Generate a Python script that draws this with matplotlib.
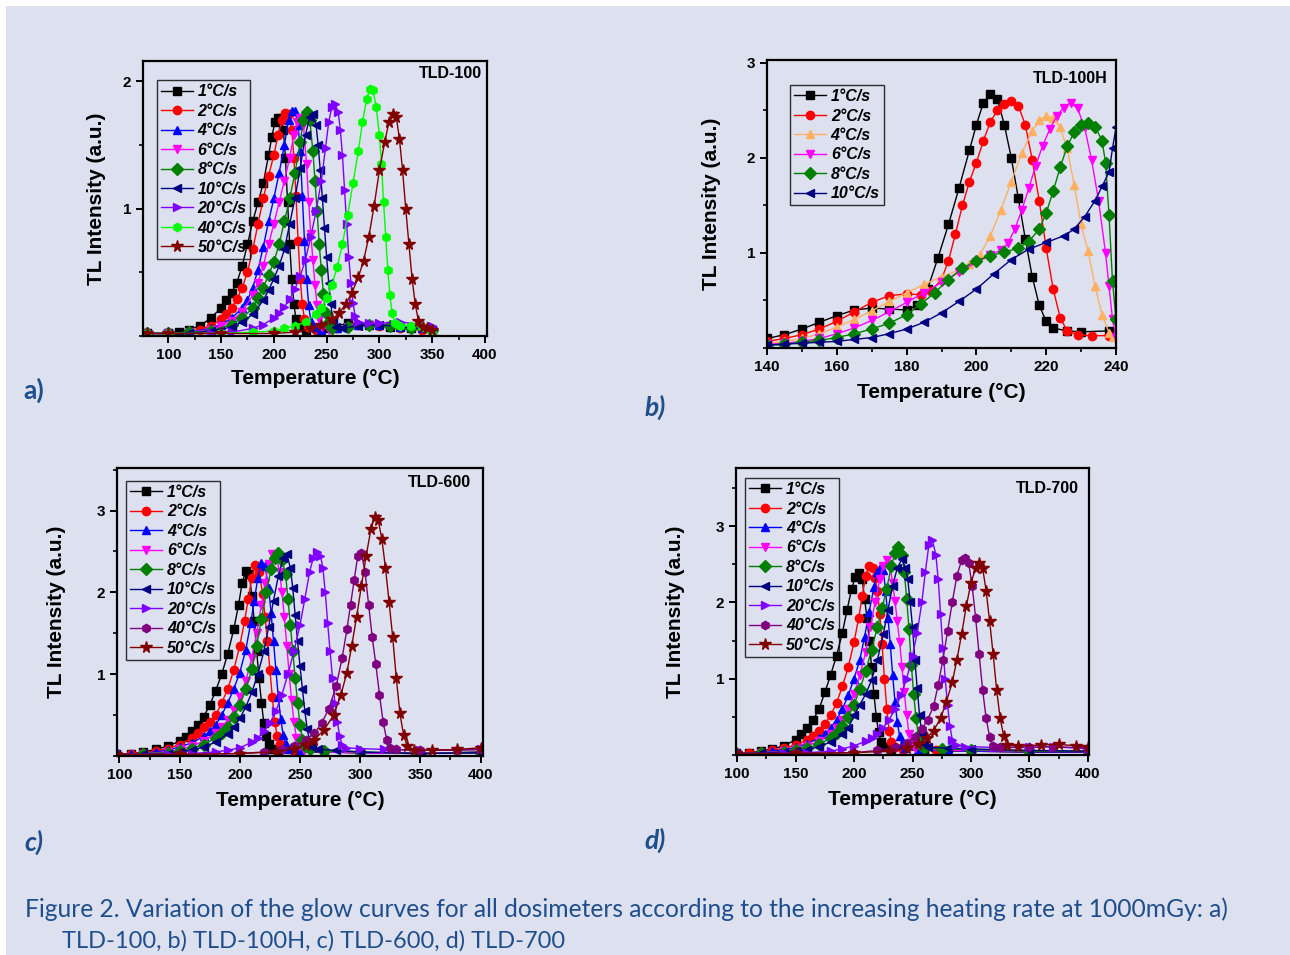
import matplotlib
matplotlib.use("Agg")
import matplotlib.pyplot as plt
from matplotlib.patches import Rectangle
from matplotlib.ticker import MultipleLocator
from matplotlib.font_manager import FontProperties

# ---- legend labels / styles ----
rates_9 = ["1°C/s", "2°C/s", "4°C/s", "6°C/s", "8°C/s", "10°C/s", "20°C/s", "40°C/s", "50°C/s"]
rates_6 = rates_9[:6]
markers_9 = ["s", "o", "^", "v", "D", "<", ">", "h", "*"]
colors_a = ["#000000", "#ff0000", "#0000ff", "#ff00ff", "#008000", "#000080", "#8000ff", "#00ff00", "#800000"]
colors_b = ["#000000", "#ff0000", "#ffb060", "#ff00ff", "#008000", "#000080"]
colors_cd = ["#000000", "#ff0000", "#0000ff", "#ff00ff", "#008000", "#000080", "#8000ff", "#800080", "#800000"]

# ---- a) TLD-100 : (temperature, TL intensity) ----
a_1 = [(80, 0.02), (100, 0.02), (110, 0.03), (120, 0.05), (130, 0.08), (140, 0.14), (150, 0.22), (155, 0.28),
       (160, 0.34), (165, 0.42), (170, 0.55), (175, 0.72), (180, 0.90), (185, 1.05), (190, 1.20), (195, 1.42),
       (198, 1.56), (201, 1.68), (204, 1.71), (207, 1.71), (209, 1.62), (211, 1.40), (213, 1.05), (215, 0.72),
       (217, 0.45), (219, 0.25), (221, 0.13), (224, 0.07), (230, 0.05), (250, 0.06), (270, 0.10), (290, 0.09),
       (310, 0.07), (330, 0.06), (350, 0.05)]
a_2 = [(80, 0.02), (100, 0.02), (120, 0.03), (130, 0.05), (140, 0.08), (150, 0.13), (155, 0.17), (160, 0.22),
       (165, 0.29), (170, 0.38), (175, 0.50), (180, 0.68), (185, 0.88), (190, 1.08), (195, 1.26), (200, 1.42),
       (204, 1.58), (208, 1.70), (211, 1.75), (214, 1.74), (217, 1.62), (219, 1.40), (221, 1.10), (223, 0.75),
       (225, 0.45), (227, 0.25), (229, 0.13), (232, 0.07), (240, 0.05), (260, 0.06), (280, 0.09), (300, 0.08),
       (320, 0.06), (340, 0.05), (350, 0.05)]
a_4 = [(80, 0.02), (100, 0.02), (120, 0.03), (140, 0.06), (150, 0.09), (160, 0.14), (170, 0.22), (175, 0.28),
       (180, 0.38), (185, 0.52), (190, 0.70), (195, 0.90), (200, 1.08), (205, 1.28), (210, 1.50), (214, 1.70),
       (217, 1.77), (220, 1.77), (223, 1.66), (225, 1.45), (227, 1.10), (229, 0.75), (231, 0.45), (233, 0.24),
       (235, 0.12), (238, 0.07), (245, 0.05), (260, 0.06), (280, 0.09), (300, 0.09), (320, 0.07), (340, 0.06),
       (350, 0.05)]
a_6 = [(80, 0.02), (100, 0.02), (120, 0.03), (140, 0.05), (150, 0.08), (160, 0.12), (170, 0.19), (180, 0.32),
       (185, 0.42), (190, 0.55), (195, 0.72), (200, 0.88), (205, 1.05), (210, 1.22), (215, 1.40), (219, 1.58),
       (222, 1.68), (225, 1.71), (228, 1.66), (231, 1.35), (233, 1.05), (235, 0.80), (237, 0.60), (239, 0.40),
       (241, 0.24), (243, 0.13), (246, 0.07), (252, 0.05), (270, 0.07), (290, 0.09), (310, 0.08), (330, 0.06),
       (350, 0.05)]
a_8 = [(80, 0.02), (100, 0.02), (120, 0.03), (140, 0.04), (160, 0.09), (170, 0.14), (180, 0.22), (185, 0.30),
       (190, 0.38), (195, 0.48), (200, 0.58), (205, 0.72), (210, 0.90), (215, 1.08), (220, 1.28), (225, 1.52),
       (228, 1.70), (231, 1.76), (234, 1.70), (237, 1.45), (239, 1.22), (241, 0.98), (243, 0.72), (245, 0.52),
       (247, 0.33), (249, 0.18), (251, 0.10), (255, 0.06), (270, 0.07), (290, 0.09), (310, 0.08), (330, 0.06),
       (350, 0.05)]
a_10 = [(80, 0.02), (100, 0.02), (120, 0.02), (140, 0.04), (160, 0.07), (170, 0.11), (180, 0.17), (190, 0.28),
        (195, 0.36), (200, 0.45), (205, 0.55), (210, 0.68), (215, 0.88), (220, 1.08), (225, 1.32), (230, 1.58),
        (234, 1.72), (237, 1.74), (240, 1.66), (242, 1.50), (244, 1.30), (246, 1.08), (248, 0.85), (250, 0.62),
        (252, 0.42), (254, 0.25), (256, 0.12), (259, 0.07), (265, 0.06), (280, 0.08), (300, 0.09), (320, 0.07),
        (340, 0.06), (350, 0.05)]
a_20 = [(80, 0.02), (100, 0.02), (140, 0.02), (160, 0.03), (180, 0.06), (190, 0.09), (200, 0.14), (205, 0.18),
        (210, 0.23), (215, 0.29), (220, 0.37), (225, 0.47), (230, 0.60), (235, 0.78), (240, 0.98), (245, 1.22),
        (249, 1.48), (252, 1.68), (255, 1.80), (258, 1.82), (261, 1.76), (263, 1.62), (265, 1.42), (267, 1.15),
        (269, 0.88), (271, 0.62), (273, 0.42), (275, 0.26), (277, 0.16), (280, 0.11), (290, 0.10), (300, 0.10),
        (320, 0.11), (340, 0.09), (350, 0.08)]
a_40 = [(80, 0.02), (100, 0.02), (150, 0.02), (180, 0.03), (200, 0.04), (210, 0.06), (220, 0.08), (230, 0.11),
        (240, 0.17), (245, 0.22), (250, 0.30), (255, 0.40), (260, 0.54), (265, 0.72), (270, 0.95), (275, 1.20),
        (280, 1.45), (284, 1.68), (288, 1.86), (291, 1.94), (294, 1.93), (297, 1.80), (300, 1.58), (302, 1.35),
        (304, 1.05), (306, 0.78), (308, 0.52), (310, 0.32), (312, 0.18), (315, 0.10), (320, 0.08), (330, 0.08),
        (340, 0.07), (348, 0.05), (350, 0.02)]
a_50 = [(80, 0.02), (100, 0.02), (150, 0.02), (200, 0.02), (220, 0.03), (235, 0.06), (245, 0.09), (255, 0.13),
        (262, 0.18), (268, 0.25), (274, 0.34), (280, 0.46), (285, 0.59), (290, 0.78), (295, 1.02), (300, 1.30),
        (305, 1.52), (309, 1.68), (313, 1.74), (316, 1.72), (319, 1.55), (322, 1.30), (325, 1.00), (328, 0.72),
        (331, 0.45), (334, 0.25), (337, 0.12), (341, 0.07), (345, 0.06), (350, 0.05)]

# ---- b) TLD-100H ----
b_1 = [(140, 0.10), (145, 0.14), (150, 0.20), (155, 0.27), (160, 0.34), (165, 0.40), (170, 0.42), (175, 0.41),
       (180, 0.40), (183, 0.45), (186, 0.62), (189, 0.95), (192, 1.30), (195, 1.68), (198, 2.08), (200, 2.35),
       (202, 2.58), (204, 2.67), (206, 2.62), (208, 2.35), (210, 2.00), (212, 1.58), (214, 1.15), (216, 0.75),
       (218, 0.45), (220, 0.28), (222, 0.21), (226, 0.18), (230, 0.17), (238, 0.18)]
b_2 = [(140, 0.07), (145, 0.10), (150, 0.14), (155, 0.20), (160, 0.28), (165, 0.38), (170, 0.48), (175, 0.55),
       (180, 0.57), (184, 0.56), (187, 0.60), (190, 0.72), (192, 0.92), (194, 1.20), (196, 1.50), (198, 1.75),
       (200, 1.95), (202, 2.18), (204, 2.38), (206, 2.50), (208, 2.57), (210, 2.60), (212, 2.55), (214, 2.35),
       (216, 1.98), (218, 1.55), (220, 1.05), (222, 0.62), (224, 0.32), (226, 0.18), (229, 0.14), (233, 0.13),
       (238, 0.13)]
b_4 = [(140, 0.05), (145, 0.07), (150, 0.10), (155, 0.15), (160, 0.22), (165, 0.30), (170, 0.39), (175, 0.49),
       (180, 0.58), (185, 0.67), (190, 0.75), (195, 0.82), (198, 0.88), (201, 0.98), (204, 1.18), (207, 1.45),
       (210, 1.75), (213, 2.05), (216, 2.28), (218, 2.40), (220, 2.44), (222, 2.42), (224, 2.32), (226, 2.10),
       (228, 1.72), (230, 1.30), (232, 1.02), (234, 0.65), (236, 0.35), (238, 0.16), (239, 0.12)]
b_6 = [(140, 0.04), (145, 0.05), (150, 0.07), (155, 0.10), (160, 0.15), (165, 0.21), (170, 0.29), (175, 0.38),
       (180, 0.48), (185, 0.58), (190, 0.69), (195, 0.80), (200, 0.90), (204, 0.98), (207, 1.03), (209, 1.10),
       (211, 1.25), (213, 1.45), (215, 1.68), (217, 1.92), (219, 2.13), (221, 2.30), (223, 2.44), (225, 2.53),
       (227, 2.58), (229, 2.52), (231, 2.32), (233, 1.98), (235, 1.55), (237, 1.00), (238, 0.65), (239, 0.30),
       (240, 0.12)]
b_8 = [(140, 0.03), (145, 0.04), (150, 0.06), (155, 0.08), (160, 0.11), (165, 0.15), (170, 0.20), (175, 0.26),
       (180, 0.35), (184, 0.46), (188, 0.58), (192, 0.72), (196, 0.84), (200, 0.92), (204, 0.97), (208, 1.01),
       (212, 1.05), (215, 1.12), (218, 1.25), (220, 1.42), (222, 1.65), (224, 1.90), (226, 2.12), (228, 2.27),
       (230, 2.35), (232, 2.37), (234, 2.33), (236, 2.18), (237, 1.95), (238, 1.40), (239, 0.70), (240, 0.30)]
b_10 = [(140, 0.03), (145, 0.04), (150, 0.05), (155, 0.06), (160, 0.07), (165, 0.09), (170, 0.11), (175, 0.15),
        (180, 0.20), (185, 0.27), (190, 0.37), (195, 0.49), (200, 0.62), (205, 0.78), (210, 0.93), (215, 1.04),
        (220, 1.11), (225, 1.18), (228, 1.25), (231, 1.38), (234, 1.55), (236, 1.70), (238, 1.85), (239, 2.10),
        (240, 2.32)]

# ---- c) TLD-600 ----
c_1 = [(97, 0.02), (110, 0.03), (120, 0.05), (130, 0.08), (140, 0.12), (150, 0.18), (155, 0.23), (160, 0.30),
       (165, 0.38), (170, 0.48), (175, 0.62), (180, 0.80), (185, 1.00), (190, 1.25), (195, 1.55), (199, 1.85),
       (202, 2.12), (205, 2.26), (208, 2.22), (210, 1.95), (212, 1.65), (214, 1.28), (216, 0.95), (218, 0.65),
       (220, 0.40), (222, 0.25), (224, 0.15), (227, 0.09), (232, 0.06), (250, 0.05), (300, 0.04), (350, 0.03),
       (400, 0.05)]
c_2 = [(97, 0.02), (110, 0.03), (120, 0.04), (130, 0.06), (140, 0.09), (150, 0.14), (160, 0.22), (165, 0.28),
       (170, 0.35), (175, 0.42), (180, 0.50), (185, 0.65), (190, 0.82), (195, 1.05), (200, 1.35), (204, 1.65),
       (207, 1.92), (210, 2.18), (213, 2.33), (216, 2.25), (219, 1.98), (221, 1.70), (223, 1.40), (225, 1.05),
       (227, 0.72), (229, 0.42), (231, 0.25), (233, 0.15), (236, 0.09), (245, 0.06), (270, 0.05), (300, 0.04),
       (350, 0.03), (400, 0.04)]
c_4 = [(97, 0.02), (110, 0.02), (120, 0.03), (130, 0.05), (140, 0.07), (150, 0.11), (160, 0.16), (170, 0.24),
       (175, 0.30), (180, 0.38), (185, 0.50), (190, 0.65), (195, 0.82), (200, 1.02), (205, 1.30), (209, 1.62),
       (212, 1.90), (215, 2.18), (218, 2.36), (221, 2.32), (224, 2.05), (226, 1.75), (228, 1.40), (230, 1.05),
       (232, 0.72), (234, 0.45), (236, 0.26), (238, 0.15), (241, 0.09), (250, 0.06), (270, 0.05), (300, 0.04),
       (350, 0.03), (400, 0.04)]
c_6 = [(97, 0.02), (120, 0.03), (140, 0.05), (150, 0.08), (160, 0.12), (170, 0.18), (180, 0.28), (185, 0.35),
       (190, 0.44), (195, 0.56), (200, 0.72), (205, 0.92), (210, 1.20), (214, 1.50), (218, 1.85), (221, 2.12),
       (224, 2.35), (227, 2.47), (230, 2.46), (233, 2.25), (235, 2.00), (237, 1.70), (239, 1.35), (241, 1.00),
       (243, 0.68), (245, 0.42), (247, 0.22), (249, 0.12), (253, 0.07), (270, 0.05), (300, 0.04), (350, 0.03),
       (400, 0.04)]
c_8 = [(97, 0.02), (120, 0.03), (140, 0.04), (150, 0.06), (160, 0.09), (170, 0.14), (180, 0.22), (185, 0.28),
       (190, 0.36), (195, 0.48), (200, 0.62), (205, 0.82), (210, 1.06), (214, 1.35), (218, 1.68), (222, 2.00),
       (226, 2.28), (229, 2.42), (232, 2.48), (235, 2.40), (238, 2.22), (240, 1.92), (242, 1.60), (244, 1.28),
       (246, 0.95), (248, 0.65), (250, 0.38), (252, 0.20), (254, 0.12), (258, 0.08), (270, 0.06), (300, 0.05),
       (350, 0.03), (400, 0.04)]
c_10 = [(97, 0.02), (120, 0.02), (140, 0.03), (150, 0.05), (160, 0.07), (170, 0.11), (180, 0.17), (190, 0.27),
        (195, 0.35), (200, 0.46), (205, 0.60), (210, 0.78), (215, 1.00), (220, 1.28), (224, 1.58), (228, 1.90),
        (232, 2.20), (236, 2.42), (239, 2.47), (242, 2.30), (244, 2.05), (246, 1.72), (248, 1.40), (250, 1.10),
        (252, 0.82), (254, 0.55), (256, 0.33), (258, 0.18), (260, 0.11), (265, 0.08), (280, 0.07), (300, 0.05),
        (350, 0.03), (400, 0.04)]
c_20 = [(97, 0.02), (140, 0.02), (160, 0.03), (180, 0.05), (190, 0.07), (200, 0.10), (210, 0.17), (215, 0.22),
        (220, 0.30), (225, 0.40), (230, 0.55), (235, 0.75), (240, 1.00), (245, 1.28), (250, 1.60), (254, 1.92),
        (258, 2.25), (261, 2.42), (264, 2.49), (267, 2.45), (269, 2.30), (271, 2.00), (273, 1.62), (275, 1.28),
        (277, 0.95), (279, 0.65), (281, 0.42), (283, 0.24), (285, 0.14), (288, 0.10), (300, 0.09), (320, 0.08),
        (350, 0.07), (400, 0.08)]
c_40 = [(97, 0.02), (150, 0.02), (200, 0.03), (220, 0.05), (235, 0.08), (245, 0.12), (255, 0.20), (262, 0.28),
        (268, 0.40), (274, 0.58), (280, 0.85), (285, 1.20), (289, 1.55), (292, 1.85), (295, 2.15), (298, 2.45),
        (301, 2.48), (304, 2.25), (307, 1.85), (310, 1.45), (313, 1.12), (316, 0.75), (319, 0.42), (322, 0.20),
        (325, 0.10), (330, 0.08), (350, 0.07), (380, 0.07), (400, 0.08)]
c_50 = [(97, 0.02), (150, 0.02), (200, 0.03), (230, 0.05), (245, 0.09), (255, 0.14), (262, 0.20), (270, 0.32),
        (278, 0.50), (284, 0.75), (289, 1.02), (293, 1.35), (297, 1.70), (301, 2.08), (305, 2.45), (309, 2.78),
        (312, 2.92), (315, 2.88), (318, 2.65), (321, 2.30), (324, 1.88), (327, 1.45), (330, 0.95), (333, 0.52),
        (336, 0.26), (339, 0.12), (345, 0.07), (360, 0.07), (380, 0.08), (400, 0.10)]

# ---- d) TLD-700 ----
d_1 = [(99, 0.02), (110, 0.03), (120, 0.05), (130, 0.08), (140, 0.12), (150, 0.20), (155, 0.27), (160, 0.36),
       (165, 0.46), (170, 0.60), (175, 0.82), (180, 1.05), (185, 1.30), (190, 1.60), (194, 1.90), (198, 2.18),
       (201, 2.33), (204, 2.38), (207, 2.30), (209, 2.05), (211, 1.80), (213, 1.50), (215, 1.15), (217, 0.80),
       (219, 0.50), (221, 0.30), (223, 0.17), (226, 0.10), (232, 0.07), (260, 0.06), (300, 0.05), (350, 0.04),
       (400, 0.04)]
d_2 = [(99, 0.02), (110, 0.03), (120, 0.04), (130, 0.06), (140, 0.09), (150, 0.13), (160, 0.19), (165, 0.25),
       (170, 0.32), (175, 0.41), (180, 0.52), (185, 0.68), (190, 0.90), (195, 1.15), (200, 1.48), (204, 1.80),
       (207, 2.08), (210, 2.35), (213, 2.48), (216, 2.45), (218, 2.32), (220, 2.15), (222, 1.85), (224, 1.45),
       (226, 1.00), (228, 0.60), (230, 0.32), (232, 0.17), (235, 0.10), (242, 0.07), (270, 0.06), (300, 0.05),
       (350, 0.04), (400, 0.04)]
d_4 = [(99, 0.02), (120, 0.03), (130, 0.05), (140, 0.07), (150, 0.10), (160, 0.15), (170, 0.22), (175, 0.28),
       (180, 0.36), (185, 0.46), (190, 0.60), (195, 0.78), (200, 1.00), (205, 1.25), (209, 1.55), (213, 1.88),
       (217, 2.20), (220, 2.40), (223, 2.48), (225, 2.42), (227, 2.15), (229, 1.80), (231, 1.45), (233, 1.05),
       (235, 0.70), (237, 0.43), (239, 0.25), (241, 0.14), (244, 0.09), (255, 0.07), (280, 0.06), (300, 0.05),
       (350, 0.04), (400, 0.04)]
d_6 = [(99, 0.02), (120, 0.03), (140, 0.05), (150, 0.08), (160, 0.12), (170, 0.18), (180, 0.28), (185, 0.36),
       (190, 0.46), (195, 0.60), (200, 0.80), (205, 1.05), (210, 1.35), (214, 1.68), (218, 2.00), (222, 2.30),
       (225, 2.48), (228, 2.55), (231, 2.45), (233, 2.25), (235, 2.02), (237, 1.75), (239, 1.48), (241, 1.15),
       (243, 0.82), (245, 0.52), (247, 0.28), (249, 0.15), (252, 0.09), (260, 0.07), (300, 0.06), (350, 0.05),
       (400, 0.05)]
d_8 = [(99, 0.02), (120, 0.03), (140, 0.04), (150, 0.06), (160, 0.09), (170, 0.14), (180, 0.22), (185, 0.29),
       (190, 0.38), (195, 0.50), (200, 0.66), (205, 0.86), (210, 1.10), (215, 1.38), (220, 1.68), (224, 1.92),
       (228, 2.18), (232, 2.48), (235, 2.65), (238, 2.72), (241, 2.62), (243, 2.40), (245, 2.05), (247, 1.65),
       (249, 1.18), (251, 0.80), (253, 0.48), (255, 0.25), (257, 0.13), (260, 0.09), (275, 0.08), (300, 0.07),
       (350, 0.05), (400, 0.05)]
d_10 = [(99, 0.02), (120, 0.02), (140, 0.04), (150, 0.05), (160, 0.07), (170, 0.11), (180, 0.17), (190, 0.27),
        (195, 0.35), (200, 0.52), (205, 0.66), (210, 0.80), (215, 0.98), (220, 1.25), (225, 1.58), (229, 1.90),
        (233, 2.22), (237, 2.45), (241, 2.57), (244, 2.45), (246, 2.30), (248, 2.00), (250, 1.68), (252, 1.25),
        (254, 0.88), (256, 0.52), (258, 0.28), (260, 0.14), (263, 0.10), (280, 0.09), (300, 0.08), (350, 0.06),
        (400, 0.05)]
d_20 = [(99, 0.02), (140, 0.02), (160, 0.03), (180, 0.05), (190, 0.08), (200, 0.12), (210, 0.18), (215, 0.22),
        (220, 0.28), (225, 0.36), (230, 0.46), (235, 0.60), (240, 0.78), (245, 1.00), (250, 1.30), (254, 1.60),
        (258, 2.00), (261, 2.40), (264, 2.75), (267, 2.82), (270, 2.62), (272, 2.30), (274, 1.85), (276, 1.40),
        (278, 1.00), (280, 0.65), (282, 0.38), (284, 0.20), (287, 0.13), (295, 0.11), (320, 0.10), (350, 0.10),
        (370, 0.11), (400, 0.08)]
d_40 = [(99, 0.02), (150, 0.02), (200, 0.03), (220, 0.06), (235, 0.10), (245, 0.16), (252, 0.24), (258, 0.34),
        (263, 0.46), (268, 0.64), (272, 0.92), (276, 1.25), (280, 1.62), (284, 2.00), (288, 2.35), (292, 2.55),
        (295, 2.58), (298, 2.52), (301, 2.22), (304, 1.80), (307, 1.32), (310, 0.85), (313, 0.48), (316, 0.24),
        (319, 0.12), (325, 0.10), (350, 0.10), (370, 0.11), (400, 0.09)]
d_50 = [(99, 0.02), (150, 0.02), (200, 0.03), (230, 0.05), (245, 0.09), (255, 0.15), (262, 0.22), (268, 0.32),
        (274, 0.48), (279, 0.70), (284, 0.95), (288, 1.25), (292, 1.58), (296, 1.95), (300, 2.25), (304, 2.45),
        (307, 2.52), (310, 2.45), (313, 2.15), (316, 1.75), (319, 1.32), (322, 0.85), (325, 0.48), (328, 0.25),
        (331, 0.13), (340, 0.12), (360, 0.13), (375, 0.14), (390, 0.12), (400, 0.10)]

FONT = "Liberation Sans"
CAPTION_BLUE = "#1f4e8c"
BG = "#dde0ef"

plt.rcParams["font.family"] = [FONT, "DejaVu Sans"]
plt.rcParams["font.weight"] = "bold"


def draw_panel(ax, curves, colors, labels, xlim, ylim, xmajor, xminor, yticks,
               title, title_xy, leg_anchor, ylab_x):
    for pts, col, mk, lab in zip(curves, colors, markers_9, labels):
        t = [p[0] for p in pts]
        v = [p[1] for p in pts]
        ms = 8.5 if mk == "*" else 6
        ax.plot(t, v, color=col, marker=mk, ms=ms, mfc=col, mec=col, lw=1.0, label=lab)

    ax.set_xlim(*xlim)
    ax.set_ylim(*ylim)
    ax.xaxis.set_major_locator(MultipleLocator(xmajor))
    ax.xaxis.set_minor_locator(MultipleLocator(xminor))
    ax.set_yticks(yticks)
    ax.yaxis.set_minor_locator(MultipleLocator(0.5))
    ax.tick_params(which="major", direction="out", length=5, width=1.4, labelsize=11)
    ax.tick_params(which="minor", direction="out", length=3, width=1.2)
    for lab in ax.get_xticklabels() + ax.get_yticklabels():
        lab.set_fontweight("bold")
    for sp in ax.spines.values():
        sp.set_linewidth(1.6)
    ax.set_facecolor("none")

    ax.text(title_xy[0], title_xy[1], title, transform=ax.transAxes, ha="right", va="center",
            fontsize=11.5, fontweight="bold")
    ax.text(0.5, -0.155, "Temperature (°C)", transform=ax.transAxes, ha="center", va="center",
            fontsize=15, fontweight="bold")
    ax.text(ylab_x, 0.5, "TL Intensity (a.u.)", transform=ax.transAxes, ha="center", va="center",
            rotation=90, fontsize=15, fontweight="bold")

    leg = ax.legend(loc="upper left", bbox_to_anchor=leg_anchor, borderaxespad=0,
                    prop=FontProperties(family=FONT, weight="bold", style="italic", size=11.5),
                    frameon=True, fancybox=False, edgecolor="black", facecolor="none",
                    handlelength=2.0, handletextpad=0.3, labelspacing=0.28, borderpad=0.25,
                    numpoints=1)
    leg.get_frame().set_linewidth(1.0)


fig = plt.figure(figsize=(12.9, 9.55), dpi=100)
fig.patch.set_facecolor("white")
fig.patches.append(Rectangle((6 / 1290, 0), 1284 / 1290, 949 / 955, transform=fig.transFigure,
                             facecolor=BG, edgecolor="none", zorder=-10))

ax_a = fig.add_axes([143 / 1290, (955 - 336) / 955, 344 / 1290, 275 / 955])
ax_b = fig.add_axes([767 / 1290, (955 - 348) / 955, 349 / 1290, 288 / 955])
ax_c = fig.add_axes([117 / 1290, (955 - 756) / 955, 366 / 1290, 288 / 955])
ax_d = fig.add_axes([736 / 1290, (955 - 755) / 955, 353 / 1290, 287 / 955])

draw_panel(ax_a, [a_1, a_2, a_4, a_6, a_8, a_10, a_20, a_40, a_50], colors_a, rates_9,
           (76, 402), (0, 2.16), 50, 25, [1, 2], "TLD-100", (0.985, 0.955), (0.04, 0.93), -0.134)
draw_panel(ax_b, [b_1, b_2, b_4, b_6, b_8, b_10], colors_b, rates_6,
           (140, 240), (0, 3.03), 20, 10, [1, 2, 3], "TLD-100H", (0.977, 0.937), (0.066, 0.913), -0.158)
draw_panel(ax_c, [c_1, c_2, c_4, c_6, c_8, c_10, c_20, c_40, c_50], colors_cd, rates_9,
           (98, 402), (0, 3.52), 50, 25, [1, 2, 3], "TLD-600", (0.967, 0.95), (0.025, 0.955), -0.164)
draw_panel(ax_d, [d_1, d_2, d_4, d_6, d_8, d_10, d_20, d_40, d_50], colors_cd, rates_9,
           (99, 401), (0, 3.76), 50, 25, [1, 2, 3], "TLD-700", (0.972, 0.93), (0.026, 0.965), -0.17)

# panel letters
letter_font = ["Lato", "DejaVu Sans"]
fig.text(23 / 1290, 1 - 390 / 955, "a)", family=letter_font, fontsize=19, fontweight="bold",
         color=CAPTION_BLUE, ha="left", va="center")
fig.text(644 / 1290, 1 - 407 / 955, "b)", family=letter_font, fontsize=19, fontweight="bold",
         style="italic", color=CAPTION_BLUE, ha="left", va="center")
fig.text(24 / 1290, 1 - 842 / 955, "c)", family=letter_font, fontsize=19, fontweight="bold",
         style="italic", color=CAPTION_BLUE, ha="left", va="center")
fig.text(644 / 1290, 1 - 840 / 955, "d)", family=letter_font, fontsize=19, fontweight="bold",
         style="italic", color=CAPTION_BLUE, ha="left", va="center")

# caption
fig.text(25 / 1290, 1 - 909 / 955,
         "Figure 2. Variation of the glow curves for all dosimeters according to the increasing heating rate at 1000mGy: a)",
         family=letter_font, fontsize=17.7, fontweight="normal", color=CAPTION_BLUE, ha="left", va="center")
fig.text(62 / 1290, 1 - 941 / 955, "TLD-100, b) TLD-100H, c) TLD-600, d) TLD-700",
         family=letter_font, fontsize=17.0, fontweight="normal", color=CAPTION_BLUE, ha="left", va="center")

fig.savefig("out.png", dpi=100, facecolor=fig.get_facecolor())
